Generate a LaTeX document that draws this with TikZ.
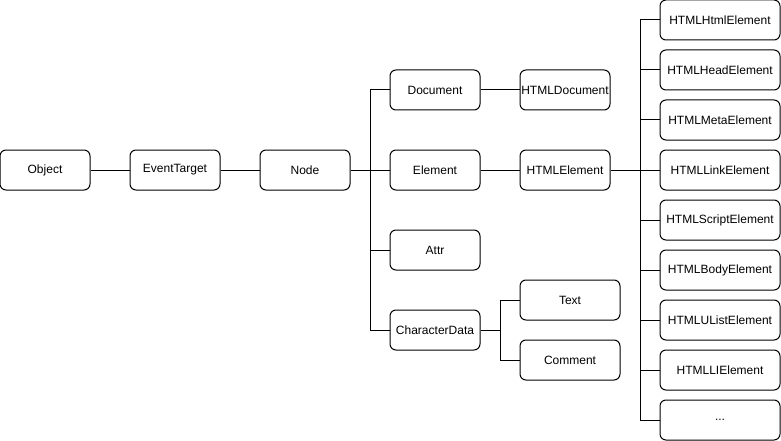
\documentclass[tikz,border=0pt]{standalone}
\usepackage{fontspec}
\setmainfont{Liberation Sans}
\begin{document}
\begin{tikzpicture}[x=1pt,y=-1pt,
  box/.style={draw,line width=1pt,rounded corners=6pt,minimum width=90pt,minimum height=40pt,inner sep=0pt,font=\fontsize{12}{14}\selectfont,fill=white},
  wbox/.style={box,minimum width=100pt},
  rbox/.style={box,minimum width=120pt},
  link/.style={line width=1pt}]
\useasboundingbox (0,0) rectangle (781,441);
\node[box] (obj) at (45,170) {Object};
\node[box] (evt) at (175,170) {EventTarget};
\node[box] (node) at (305,170) {Node};
\node[box] (doc) at (435,90) {Document};
\node[box] (el) at (435,170) {Element};
\node[box] (attr) at (435,250) {Attr};
\node[box] (cd) at (435,330) {CharacterData};
\node[box] (hdoc) at (565,90) {HTMLDocument};
\node[box] (hel) at (565,170) {HTMLElement};
\node[wbox] (text) at (570,300) {Text};
\node[wbox] (comment) at (570,360) {Comment};
\node[rbox] (r1) at (720,20) {HTMLHtmlElement};
\node[rbox] (r2) at (720,70) {HTMLHeadElement};
\node[rbox] (r3) at (720,120) {HTMLMetaElement};
\node[rbox] (r4) at (720,170) {HTMLLinkElement};
\node[rbox] (r5) at (720,220) {HTMLScriptElement};
\node[rbox] (r6) at (720,270) {HTMLBodyElement};
\node[rbox] (r7) at (720,320) {HTMLUListElement};
\node[rbox] (r8) at (720,370) {HTMLLIElement};
\node[rbox] (r9) at (720,420) {...};
\draw[link] (obj) -- (evt);
\draw[link] (evt) -- (node);
\draw[link] (node.east) -- ++(20,0) coordinate (b1);
\foreach \c in {doc,el,attr,cd} \draw[link] (b1) |- (\c.west);
\draw[link] (doc) -- (hdoc);
\draw[link] (el) -- (hel);
\draw[link] (cd.east) -- ++(20,0) coordinate (b2);
\foreach \c in {text,comment} \draw[link] (b2) |- (\c.west);
\draw[link] (hel.east) -- ++(30,0) coordinate (b3);
\foreach \c in {r1,r2,r3,r4,r5,r6,r7,r8,r9} \draw[link] (b3) |- (\c.west);
\end{tikzpicture}
\end{document}
